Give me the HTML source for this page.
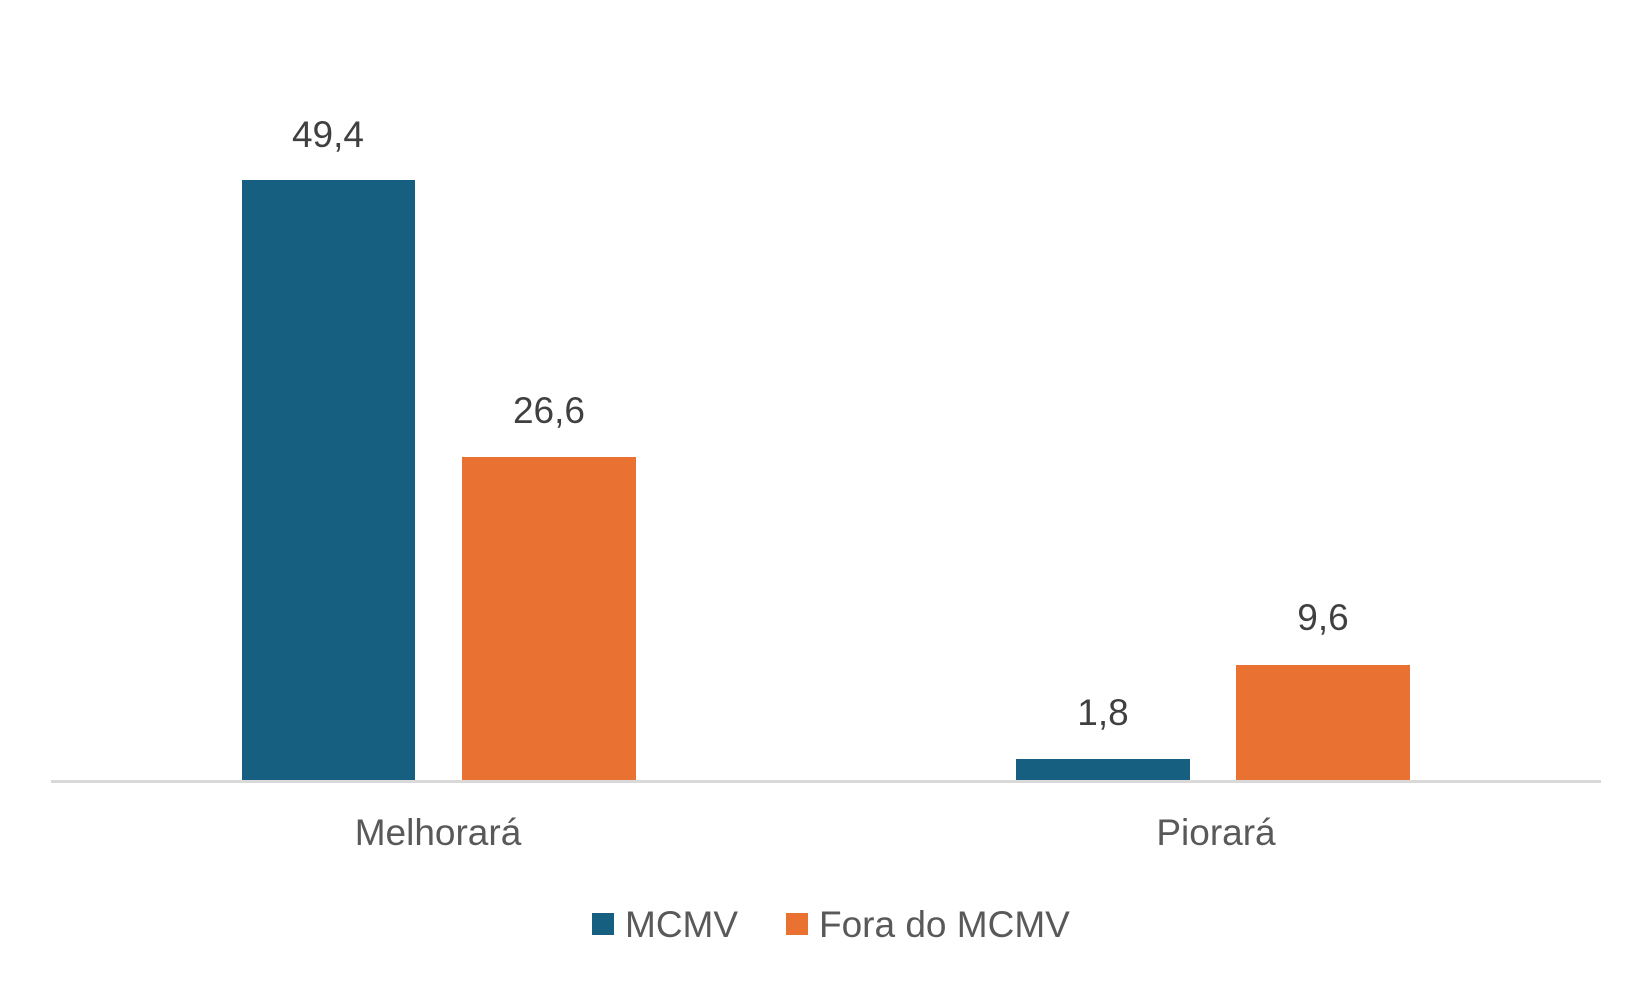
<!DOCTYPE html>
<html><head><meta charset="utf-8"><style>
html,body{margin:0;padding:0;background:#fff;}
svg text{font-family:"Liberation Sans",sans-serif;}
</style></head><body>
<svg width="1650" height="990" xmlns="http://www.w3.org/2000/svg">
<rect width="1650" height="990" fill="#fff"/>
<rect x="242" y="180" width="173" height="601" fill="#175F80"/>
<rect x="462" y="457" width="174" height="324" fill="#E97132"/>
<rect x="1016" y="759" width="174" height="22" fill="#175F80"/>
<rect x="1236" y="665" width="174" height="116" fill="#E97132"/>
<rect x="51" y="780" width="1550" height="3" fill="#D9D9D9"/>
<g font-size="37" fill="#404040" text-anchor="middle">
<text x="328" y="147">49,4</text>
<text x="549" y="423">26,6</text>
<text x="1103" y="725">1,8</text>
<text x="1323" y="630">9,6</text>
</g>
<g font-size="37" fill="#595959" text-anchor="middle">
<text x="438" y="845">Melhorará</text>
<text x="1216" y="845">Piorará</text>
</g>
<rect x="592" y="913" width="22" height="22" fill="#175F80"/>
<text x="625" y="937" font-size="37" fill="#595959">MCMV</text>
<rect x="786" y="913" width="22" height="22" fill="#E97132"/>
<text x="819" y="937" font-size="37" fill="#595959">Fora do MCMV</text>
</svg>
</body></html>
